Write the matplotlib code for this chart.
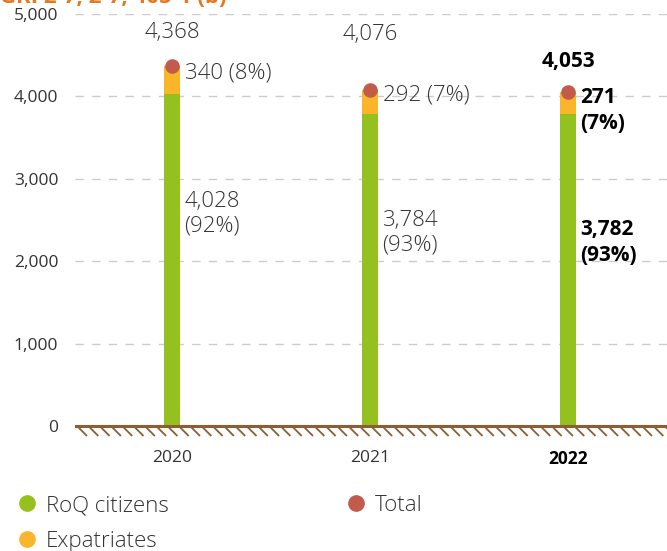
import matplotlib
matplotlib.use("Agg")
import matplotlib.pyplot as plt
import numpy as np
from matplotlib.lines import Line2D
from matplotlib.collections import LineCollection

# data
years = ["2020", "2021", "2022"]
citizens = [4028, 3784, 3782]
expats = [340, 292, 271]
totals = [4368, 4076, 4053]
cit_pct = ["92%", "93%", "93%"]
exp_pct = ["8%", "7%", "7%"]

GREEN = "#95C11F"
ORANGE = "#FBB52A"
RED = "#C25B4C"
BROWN = "#8B5E34"
TXT = "#333333"

plt.rcParams["font.family"] = ["Open Sans", "DejaVu Sans"]

fig = plt.figure(figsize=(6.67, 5.51), dpi=100)
ax = fig.add_axes([75 / 667, 113 / 551, 1 - 75 / 667, (537 - 113) / 551])
ymin, ymax = -146, 5000
xmin, xmax = -0.49, 2.5
ax.set_ylim(ymin, ymax)
ax.set_xlim(xmin, xmax)

x = list(range(len(years)))
ax.bar(x, citizens, width=0.08, color=GREEN, zorder=3)
ax.bar(x, expats, width=0.08, bottom=citizens, color=ORANGE, zorder=3)
ax.scatter(x, totals, s=110, color=RED, zorder=4, linewidths=0)

# gridlines
for v in [1000, 2000, 3000, 4000, 5000]:
    ax.axhline(v, color="#cccccc", lw=1, ls=(0, (6, 6)), zorder=1)

# ground: short diagonal strokes under the baseline
px_x = (xmax - xmin) / 592
px_y = (ymax - ymin) / 424
starts = np.arange(xmin + 2 * px_x, xmax, 11.3 * px_x)
segs = [[(s, 0), (s + 10 * px_x, -10 * px_y)] for s in starts]
ax.add_collection(LineCollection(segs, colors=BROWN, linewidths=1.3, zorder=2))
ax.axhline(0, color=BROWN, lw=2.2, zorder=3)

for s in ax.spines.values():
    s.set_visible(False)
ax.set_yticks([0, 1000, 2000, 3000, 4000, 5000])
ax.set_yticklabels(["0", "1,000", "2,000", "3,000", "4,000", "5,000"])
ax.tick_params(axis="y", length=0, pad=12, labelsize=12.5, labelcolor=TXT)
ax.set_xticks(x)
ax.set_xticklabels(years)
ax.tick_params(axis="x", length=0, pad=9, labelsize=12.5, labelcolor=TXT)
ax.get_xticklabels()[2].set_fontweight("bold")
ax.get_xticklabels()[2].set_color("black")

tot_off = [24, 40, 22]
cit_frac = [0.64, 0.62, 0.59]
for i in x:
    bold = i == 2
    fw = "bold" if bold else "light"
    col = "black" if bold else TXT
    ax.annotate(f"{totals[i]:,}", (i, totals[i]), xytext=(0, tot_off[i]),
                textcoords="offset points", ha="center", va="center",
                fontsize=16 if not bold else 15, fontweight=fw, color=col)
    mid = citizens[i] + expats[i] / 2
    if bold:
        ax.annotate(f"{expats[i]}\n({exp_pct[i]})", (i, mid), xytext=(9, 12),
                    textcoords="offset points", ha="left", va="top",
                    fontsize=15, fontweight=fw, color=col, linespacing=1.35)
    else:
        ax.annotate(f"{expats[i]} ({exp_pct[i]})", (i, mid), xytext=(9, 5),
                    textcoords="offset points", ha="left", va="center",
                    fontsize=16, fontweight=fw, color=col)
    ax.annotate(f"{citizens[i]:,}\n({cit_pct[i]})", (i, citizens[i] * cit_frac[i]),
                xytext=(9, 0), textcoords="offset points", ha="left", va="center",
                fontsize=16 if not bold else 15, fontweight=fw, color=col,
                linespacing=1.3 if bold else 1.2)

# clipped heading at the very top
fig.text(0.0, 1 - 3 / 551, "GRI 2-7, 2-7, 405-1 (b)", color="#E87722",
         fontsize=16, fontweight="bold", va="baseline", ha="left")

handles = [
    Line2D([], [], marker="o", ls="none", color=GREEN, markersize=11),
    Line2D([], [], marker="o", ls="none", color=ORANGE, markersize=11),
    Line2D([], [], marker="o", ls="none", color=RED, markersize=11),
]
fig.legend(handles, ["RoQ citizens", "Expatriates", "Total"], ncol=2,
           loc="upper left", bbox_to_anchor=(5 / 667, 1 - 484 / 551),
           frameon=False, handlelength=1.0, handletextpad=0.35,
           columnspacing=7.9, labelspacing=0.68, borderpad=0,
           labelcolor=TXT, prop={"weight": "light", "size": 16})

fig.savefig("out.png", dpi=100)
